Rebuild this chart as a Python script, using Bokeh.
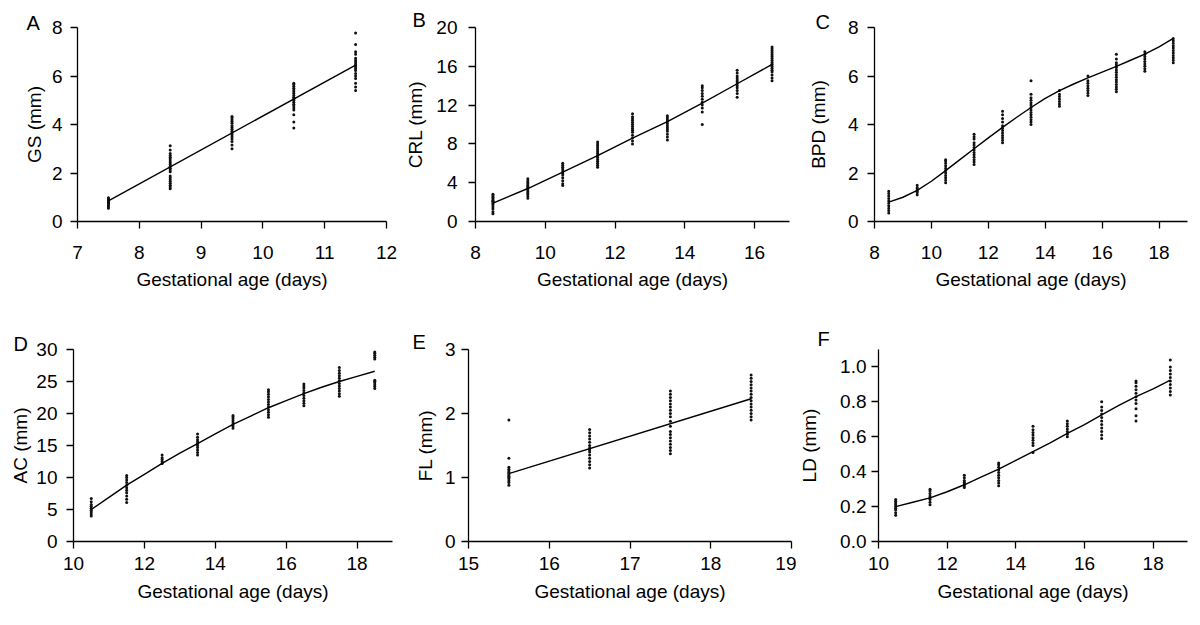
from bokeh.plotting import figure
from bokeh.layouts import column, row
from bokeh.models import Range1d, FixedTicker, Title, PrintfTickFormatter
from bokeh.embed import file_html
from bokeh.resources import INLINE

# ---------------- data ----------------
# A: GS
gs_days = [7.5, 8.5, 9.5, 10.5, 11.5]
gs_values = [
    [0.55, 0.6, 0.65, 0.7, 0.72, 0.75, 0.78, 0.8, 0.82, 0.85, 0.88, 0.9, 0.93, 0.95, 0.98],
    [1.35, 1.42, 1.5, 1.58, 1.65, 1.72, 1.8, 1.88, 2.05, 2.12, 2.2, 2.28, 2.35, 2.42, 2.5, 2.58, 2.65, 2.72, 2.8, 2.95, 3.12],
    [3.0, 3.15, 3.3, 3.4, 3.5, 3.58, 3.65, 3.72, 3.8, 3.88, 3.95, 4.05, 4.12, 4.2, 4.28, 4.33],
    [3.86, 4.1, 4.4, 4.6, 4.68, 4.76, 4.84, 4.92, 5.0, 5.05, 5.12, 5.2, 5.28, 5.35, 5.42, 5.5, 5.58, 5.65, 5.7],
    [5.4, 5.55, 5.7, 5.9, 6.0, 6.1, 6.23, 6.3, 6.37, 6.44, 6.5, 6.58, 6.65, 6.73, 6.9, 7.0, 7.3, 7.77],
]
gs_fit_x = [7.5, 11.5]
gs_fit_y = [0.85, 6.45]

# B: CRL
crl_days = [8.5, 9.5, 10.5, 11.5, 12.5, 13.5, 14.5, 15.5, 16.5]
crl_values = [
    [0.8, 1.0, 1.3, 1.5, 1.7, 1.85, 2.0, 2.1, 2.2, 2.35, 2.5, 2.65, 2.8],
    [2.4, 2.6, 2.8, 2.95, 3.1, 3.25, 3.4, 3.5, 3.6, 3.75, 3.9, 4.05, 4.2, 4.4],
    [3.7, 3.9, 4.2, 4.5, 4.8, 5.0, 5.2, 5.4, 5.6, 5.8, 6.0],
    [5.6, 5.8, 6.0, 6.2, 6.4, 6.6, 6.8, 7.0, 7.2, 7.4, 7.6, 7.8, 8.0, 8.2],
    [8.0, 8.3, 8.6, 8.9, 9.2, 9.4, 9.6, 9.8, 10.0, 10.2, 10.4, 10.6, 10.8, 11.1],
    [8.4, 8.7, 9.0, 9.3, 9.5, 9.7, 9.9, 10.1, 10.3, 10.5, 10.7, 10.9],
    [10.0, 11.3, 11.7, 12.0, 12.3, 12.6, 12.9, 13.2, 13.5, 13.8, 14.0],
    [12.8, 13.2, 13.5, 13.8, 14.0, 14.2, 14.4, 14.6, 14.8, 15.0, 15.3, 15.6],
    [14.5, 14.8, 15.1, 15.4, 15.6, 15.8, 16.0, 16.2, 16.4, 16.6, 16.8, 17.0, 17.2, 17.4, 17.6, 17.8, 18.0],
]
crl_fit_x = [8.5, 9.5, 10.5, 11.5, 12.5, 13.5, 14.5, 15.5, 16.5]
crl_fit_y = [1.9, 3.4, 5.1, 6.8, 8.6, 10.3, 12.2, 14.2, 16.2]

# C: BPD
bpd_days = [8.5, 9.5, 10.5, 11.5, 12.5, 13.5, 14.5, 15.5, 16.5, 17.5, 18.5]
bpd_values = [
    [0.35, 0.45, 0.55, 0.65, 0.75, 0.85, 0.95, 1.05, 1.15, 1.25],
    [1.1, 1.2, 1.25, 1.3, 1.35, 1.4, 1.5],
    [1.6, 1.7, 1.8, 1.9, 2.0, 2.1, 2.2, 2.3, 2.4, 2.5, 2.55],
    [2.35, 2.45, 2.55, 2.65, 2.75, 2.85, 2.95, 3.05, 3.15, 3.25, 3.4, 3.5, 3.6],
    [3.25, 3.35, 3.45, 3.55, 3.65, 3.75, 3.85, 3.95, 4.1, 4.25, 4.4, 4.55],
    [4.0, 4.1, 4.2, 4.3, 4.4, 4.5, 4.6, 4.7, 4.8, 4.9, 5.0, 5.1, 5.25, 5.8],
    [4.75, 4.85, 4.95, 5.05, 5.15, 5.25, 5.4],
    [5.2, 5.3, 5.4, 5.5, 5.6, 5.7, 5.8, 6.0],
    [5.35, 5.45, 5.55, 5.65, 5.75, 5.85, 5.95, 6.05, 6.15, 6.25, 6.35, 6.45, 6.55, 6.7, 6.9],
    [6.2, 6.3, 6.4, 6.5, 6.6, 6.7, 6.8, 6.9, 7.0],
    [6.55, 6.65, 6.75, 6.85, 6.95, 7.05, 7.15, 7.25, 7.35, 7.45, 7.55],
]
bpd_fit_x = [8.5, 9.0, 9.5, 10.0, 10.5, 11.0, 11.5, 12.0, 12.5, 13.0, 13.5,
             14.0, 14.5, 15.0, 15.5, 16.0, 16.5, 17.0, 17.5, 18.0, 18.5]
bpd_fit_y = [0.8, 1.0, 1.28, 1.66, 2.1, 2.55, 3.0, 3.45, 3.88, 4.3, 4.7,
             5.08, 5.4, 5.67, 5.92, 6.16, 6.4, 6.65, 6.9, 7.2, 7.55]

# D: AC
ac_days = [10.5, 11.5, 12.5, 13.5, 14.5, 15.5, 16.5, 17.5, 18.5]
ac_values = [
    [4.0, 4.3, 4.6, 4.9, 5.2, 5.5, 5.8, 6.2, 6.7],
    [6.1, 6.6, 7.1, 7.6, 8.0, 8.4, 8.8, 9.2, 9.6, 10.0, 10.3],
    [12.2, 12.5, 12.8, 13.1, 13.5],
    [13.5, 13.9, 14.3, 14.7, 15.0, 15.3, 15.6, 15.9, 16.3, 16.8],
    [17.7, 18.0, 18.3, 18.6, 18.9, 19.2, 19.5, 19.7],
    [19.4, 19.8, 20.2, 20.6, 21.0, 21.4, 21.8, 22.2, 22.6, 23.0, 23.4, 23.7],
    [21.2, 21.6, 22.0, 22.4, 22.8, 23.2, 23.6, 24.0, 24.3, 24.6],
    [22.7, 23.1, 23.5, 23.9, 24.3, 24.7, 25.1, 25.5, 25.9, 26.3, 26.7, 27.2],
    [23.9, 24.2, 24.5, 24.8, 25.0, 25.2, 28.5, 28.8, 29.1, 29.4, 29.6],
]
ac_fit_x = [10.5, 11.0, 11.5, 12.0, 12.5, 13.0, 13.5, 14.0, 14.5,
            15.0, 15.5, 16.0, 16.5, 17.0, 17.5, 18.0, 18.5]
ac_fit_y = [5.0, 6.9, 8.8, 10.5, 12.2, 13.8, 15.3, 16.8, 18.3,
            19.6, 20.9, 22.0, 23.1, 24.1, 25.0, 25.8, 26.6]

# E: FL
fl_days = [15.5, 16.5, 17.5, 18.5]
fl_values = [
    [0.88, 0.92, 0.95, 0.98, 1.0, 1.02, 1.04, 1.06, 1.08, 1.1, 1.13, 1.16, 1.3, 1.9],
    [1.15, 1.2, 1.25, 1.3, 1.35, 1.4, 1.43, 1.46, 1.5, 1.55, 1.6, 1.65, 1.7, 1.75],
    [1.37, 1.42, 1.47, 1.52, 1.57, 1.62, 1.67, 1.72, 1.8, 1.88, 1.95, 2.0, 2.05, 2.1, 2.15, 2.2, 2.25, 2.3, 2.35],
    [1.9, 1.95, 2.0, 2.05, 2.1, 2.15, 2.2, 2.25, 2.3, 2.35, 2.4, 2.45, 2.5, 2.55, 2.6],
]
fl_fit_x = [15.5, 18.5]
fl_fit_y = [1.06, 2.23]

# F: LD
ld_days = [10.5, 11.5, 12.5, 13.5, 14.5, 15.5, 16.5, 17.5, 18.5]
ld_values = [
    [0.15, 0.165, 0.18, 0.19, 0.2, 0.21, 0.22, 0.23, 0.24],
    [0.21, 0.225, 0.24, 0.25, 0.26, 0.275, 0.29, 0.30],
    [0.31, 0.32, 0.33, 0.34, 0.35, 0.365, 0.38],
    [0.32, 0.335, 0.35, 0.365, 0.38, 0.395, 0.41, 0.425, 0.44, 0.45],
    [0.51, 0.55, 0.565, 0.58, 0.595, 0.61, 0.625, 0.64, 0.66],
    [0.6, 0.615, 0.63, 0.645, 0.66, 0.675, 0.69],
    [0.59, 0.61, 0.63, 0.65, 0.67, 0.69, 0.71, 0.73, 0.75, 0.77, 0.80],
    [0.69, 0.72, 0.76, 0.79, 0.81, 0.83, 0.85, 0.87, 0.89, 0.91, 0.92],
    [0.84, 0.86, 0.88, 0.9, 0.92, 0.94, 0.96, 0.98, 1.0, 1.04],
]
ld_fit_x = [10.5, 11.0, 11.5, 12.0, 12.5, 13.0, 13.5, 14.0, 14.5,
            15.0, 15.5, 16.0, 16.5, 17.0, 17.5, 18.0, 18.5]
ld_fit_y = [0.20, 0.225, 0.25, 0.285, 0.325, 0.37, 0.415, 0.465, 0.515,
            0.565, 0.62, 0.67, 0.725, 0.78, 0.83, 0.875, 0.925]

# ---------------- styling ----------------
FONT = "Liberation Sans"
FS = "19px"
XLABEL = "Gestational age (days)"


def panel(letter, ylabel, days, values, fit_x, fit_y, xr, xticks, yr, yticks,
          w, h, mbl, mbr, mbt, mbb, ls_y, as_y, ls_x, as_x, letter_pos, yfmt=None):
    p = figure(width=w, height=h, output_backend="svg", toolbar_location=None,
               x_range=Range1d(*xr), y_range=Range1d(*yr),
               min_border_left=mbl, min_border_right=mbr,
               min_border_top=mbt, min_border_bottom=mbb)
    p.outline_line_color = None
    p.xgrid.visible = False
    p.ygrid.visible = False
    p.background_fill_color = "white"
    p.border_fill_color = "white"

    xs, ys = [], []
    for d, vals in zip(days, values):
        xs.extend([d] * len(vals))
        ys.extend(vals)
    p.scatter(xs, ys, marker="circle", size=3, fill_color="#111111",
              line_color=None)
    p.line(fit_x, fit_y, line_color="black", line_width=1.4)

    for ax in (p.xaxis[0], p.yaxis[0]):
        ax.axis_line_color = "black"
        ax.axis_line_width = 1.3
        ax.major_tick_line_color = "black"
        ax.major_tick_line_width = 1.3
        ax.major_tick_in = 0
        ax.major_tick_out = 7
        ax.minor_tick_line_color = None
        ax.major_label_text_font = FONT
        ax.major_label_text_font_size = FS
        ax.major_label_text_color = "black"
        ax.axis_label_text_font = FONT
        ax.axis_label_text_font_size = FS
        ax.axis_label_text_font_style = "normal"
        ax.axis_label_text_color = "black"

    p.xaxis.ticker = FixedTicker(ticks=xticks)
    p.yaxis.ticker = FixedTicker(ticks=yticks)
    p.xaxis.axis_label = XLABEL
    p.yaxis.axis_label = ylabel
    p.xaxis.major_label_standoff = ls_x
    p.xaxis.axis_label_standoff = as_x
    p.yaxis.major_label_standoff = ls_y
    p.yaxis.axis_label_standoff = as_y
    if yfmt:
        p.yaxis.formatter = PrintfTickFormatter(format=yfmt)

    # panel letter, drawn as a left-aligned title shifted into the margin
    p.add_layout(Title(text=letter, align="left", offset=letter_pos[0],
                       standoff=letter_pos[1], vertical_align="bottom",
                       text_font=FONT, text_font_size="20px",
                       text_font_style="normal", text_color="black"), "above")
    return p


H1, H2 = 318, 299

pa = panel("A", "GS (mm)", gs_days, gs_values, gs_fit_x, gs_fit_y,
           (7, 12), [7, 8, 9, 10, 11, 12], (0, 8), [0, 2, 4, 6, 8],
           402, H1, 77, 16, 27, 97, 8, 4, 17, 7, (-51, -12))
pb = panel("B", "CRL (mm)", crl_days, crl_values, crl_fit_x, crl_fit_y,
           (8, 17), [8, 10, 12, 14, 16], (0, 20), [0, 4, 8, 12, 16, 20],
           394, H1, 69, 7, 27, 97, 11, 7, 17, 7, (-63, -7))
pc = panel("C", "BPD (mm)", bpd_days, bpd_values, bpd_fit_x, bpd_fit_y,
           (8, 19), [8, 10, 12, 14, 16, 18], (0, 8), [0, 2, 4, 6, 8],
           394, H1, 78, 3, 27, 97, 9, 16, 17, 7, (-59, -10))
pd_ = panel("D", "AC (mm)", ac_days, ac_values, ac_fit_x, ac_fit_y,
            (10, 19), [10, 12, 14, 16, 18], (0, 30), [0, 5, 10, 15, 20, 25, 30],
            402, H2, 73, 10, 31, 76, 9, 2, 8, 8, (-60, -11))
pe = panel("E", "FL (mm)", fl_days, fl_values, fl_fit_x, fl_fit_y,
           (15, 19), [15, 16, 17, 18, 19], (0, 3), [0, 1, 2, 3],
           394, H2, 66, 5, 31, 76, 6, 6, 8, 8, (-56, -7))
pf = panel("F", "LD (mm)", ld_days, ld_values, ld_fit_x, ld_fit_y,
           (10, 19), [10, 12, 14, 16, 18], (0, 1.1), [0, 0.2, 0.4, 0.6, 0.8, 1.0],
           394, H2, 78, 3, 31, 76, 5, 17, 8, 8, (-61, -1), yfmt="%.1f")

layout = column(row(pa, pb, pc), row(pd_, pe, pf))

open("out.html", "w").write(file_html(layout, INLINE))
